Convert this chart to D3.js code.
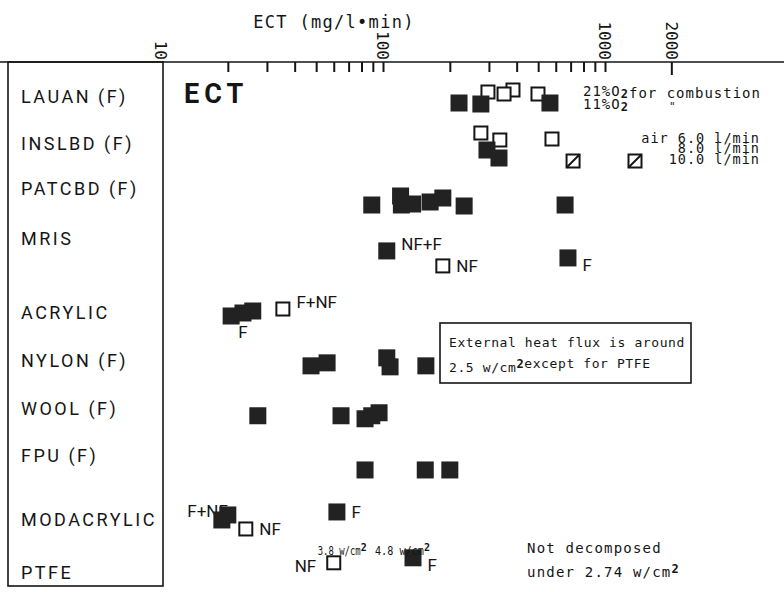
<!DOCTYPE html>
<html>
<head>
<meta charset="utf-8">
<script src="https://cdn.jsdelivr.net/npm/d3@7"></script>
<style>
  body { margin: 0; background: #fff; }
  svg { display: block; }
</style>
</head>
<body>
<div id="chart"></div>
<script>
// categories shown in the left-hand box, top to bottom
const categories = ["LAUAN (F)", "INSLBD (F)", "PATCBD (F)", "MRIS", "ACRYLIC",
  "NYLON (F)", "WOOL (F)", "FPU (F)", "MODACRYLIC", "PTFE"];

// ECT values (mg/l·min), one array per material
// type: filled / open / hatched, lane: small vertical stagger inside a row
const lauan = [
  {v: 297, type: "open", lane: -1.25}, {v: 385, type: "open", lane: -1.75},
  {v: 351, type: "open", lane: -0.75}, {v: 499, type: "open", lane: -0.75},
  {v: 220, type: "filled", lane: 1.5}, {v: 276, type: "filled", lane: 1.75},
  {v: 565, type: "filled", lane: 1.5}
];
const inslbd = [
  {v: 294, type: "filled", lane: 1.25}, {v: 333, type: "filled", lane: 3.25},
  {v: 276, type: "open", lane: -3}, {v: 336, type: "open", lane: -1.25},
  {v: 577, type: "open", lane: -1.5},
  {v: 718, type: "hatched", lane: 4}, {v: 1365, type: "hatched", lane: 4}
];
const patcbd = [
  {v: 89, type: "filled", lane: 0}, {v: 120, type: "filled", lane: -2.25},
  {v: 121, type: "filled", lane: 0}, {v: 136, type: "filled", lane: -0.25},
  {v: 163, type: "filled", lane: -0.75}, {v: 186, type: "filled", lane: -1.75},
  {v: 232, type: "filled", lane: 0.25}, {v: 661, type: "filled", lane: 0}
];
const mris = [
  {v: 104, type: "filled", lane: -1, note: "NF+F", at: "ne"},
  {v: 186, type: "open", lane: 2.75, note: "NF", at: "e"},
  {v: 681, type: "filled", lane: 0.75, note: "F", at: "se"}
];
const acrylic = [
  {v: 35.4, type: "open", lane: -1, note: "F+NF", at: "ne"},
  {v: 20.7, type: "filled", lane: 0.75},
  {v: 23.4, type: "filled", lane: 0, note: "F", at: "s"},
  {v: 25.9, type: "filled", lane: -0.5}
];
const nylon = [
  {v: 47.4, type: "filled", lane: 0.25}, {v: 56, type: "filled", lane: -0.5},
  {v: 104, type: "filled", lane: -1.75}, {v: 107.6, type: "filled", lane: 0.5},
  {v: 156, type: "filled", lane: 0.25}
];
const wool = [
  {v: 27.3, type: "filled", lane: 0.25}, {v: 64.7, type: "filled", lane: 0.25},
  {v: 83, type: "filled", lane: 1}, {v: 89, type: "filled", lane: 0.25},
  {v: 96, type: "filled", lane: -0.5}
];
const fpu = [
  {v: 83, type: "filled", lane: 0}, {v: 155, type: "filled", lane: 0},
  {v: 200, type: "filled", lane: 0}
];
const modacrylic = [
  {v: 24.1, type: "open", lane: 2.75, note: "NF", at: "e"},
  {v: 18.8, type: "filled", lane: 0.5},
  {v: 20, type: "filled", lane: -0.75, note: "F+NF", at: "nw"},
  {v: 62, type: "filled", lane: -1.5, note: "F", at: "e"}
];
const ptfe = [
  {v: 60, type: "open", lane: 1.25, note: "NF", at: "w", flux: "3.8"},
  {v: 136.5, type: "filled", lane: 0, note: "F", at: "se", flux: "4.8"}
];
const rows = [lauan, inslbd, patcbd, mris, acrylic, nylon, wool, fpu, modacrylic, ptfe];

// axis ticks
const minorTicks = [20, 30, 40, 50, 60, 70, 80, 90, 200, 300, 400, 500, 600, 700, 800, 900];
const majorTicks = [10, 100, 1000, 2000];

// ---- layout ----
const width = 784, height = 592;
const axisY = 62;
const boxLeft = 8, boxBottom = 586;
const labelSlots = [0, 0.96, 1.9, 2.94, 4.5, 5.5, 6.48, 7.46, 8.81, 9.9];
const markSlots = [0, 1, 2.25, 3.29, 4.5, 5.58, 6.62, 7.77, 8.77, 9.6];
const laneStep = 4;
const mono = "'DejaVu Sans Mono', monospace";
const sans = "Roboto, 'DejaVu Sans', sans-serif";
const ink = "#151515";

const svg = d3.select("#chart").append("svg")
    .attr("width", width)
    .attr("height", height);

const x = d3.scaleLog().domain([10, 1000]).range([161, 605]);
const slot = d3.scaleLinear().domain([0, 1]).range([97, 145]);

// top axis line and ticks
svg.append("line")
    .attr("x1", 0).attr("x2", width)
    .attr("y1", axisY).attr("y2", axisY)
    .attr("stroke", ink).attr("stroke-width", 1.4);

svg.append("g")
    .attr("transform", `translate(0,${axisY})`)
    .call(d3.axisBottom(x).tickValues(minorTicks.concat([100, 1000])).tickSize(10).tickFormat(""))
    .call(g => g.select(".domain").remove())
    .call(g => g.selectAll("line").attr("stroke", ink).attr("stroke-width", 2));

svg.append("line")
    .attr("x1", x(2000)).attr("x2", x(2000))
    .attr("y1", axisY).attr("y2", axisY + 13)
    .attr("stroke", ink).attr("stroke-width", 2);

svg.selectAll(".major-label")
    .data(majorTicks)
    .enter().append("text")
    .attr("class", "major-label")
    .attr("transform", d => `translate(${x(d)},${axisY - 2}) rotate(90)`)
    .attr("text-anchor", "end")
    .attr("dy", "0.36em")
    .attr("font-family", mono)
    .attr("font-size", 16)
    .attr("fill", ink)
    .text(d => d);

svg.append("text")
    .attr("x", 334).attr("y", 28)
    .attr("text-anchor", "middle")
    .attr("font-family", mono)
    .attr("font-size", 17)
    .attr("letter-spacing", 1.3)
    .attr("fill", ink)
    .text("ECT (mg/l\u2022min)");

// category box
svg.append("rect")
    .attr("x", boxLeft).attr("y", axisY)
    .attr("width", x(10) + 2 - boxLeft).attr("height", boxBottom - axisY)
    .attr("fill", "none").attr("stroke", ink).attr("stroke-width", 1.6);

svg.selectAll(".cat")
    .data(categories)
    .enter().append("text")
    .attr("class", "cat")
    .attr("x", 21)
    .attr("y", (d, i) => slot(labelSlots[i]))
    .attr("dy", "0.36em")
    .attr("font-family", sans)
    .attr("font-size", 18)
    .attr("letter-spacing", 2.5)
    .attr("fill", ink)
    .text(d => d);

svg.append("text")
    .attr("x", 184).attr("y", 103)
    .attr("font-family", sans)
    .attr("font-weight", 700)
    .attr("font-size", 27)
    .attr("letter-spacing", 5)
    .attr("fill", ink)
    .text("ECT");

// flatten points with their pixel positions
const size = {filled: 17, open: 15, hatched: 15};
const points = [];
rows.forEach((row, i) => {
  row.forEach(d => {
    points.push(Object.assign({}, d, {
      cx: x(d.v),
      cy: slot(markSlots[i]) + d.lane * laneStep
    }));
  });
});

// point notes (F / NF), drawn under the markers
const noteOffset = {
  e:  {dy: 6, anchor: "start"},
  ne: {dy: -1, anchor: "start"},
  se: {dy: 13, anchor: "start"},
  s:  {dy: 25, anchor: "middle"},
  nw: {dy: 2, anchor: "end"},
  w:  {dy: 9, anchor: "end"}
};
svg.append("g")
    .selectAll("text")
    .data(points.filter(d => d.note))
    .enter().append("text")
    .attr("x", d => {
      const o = noteOffset[d.at];
      const half = size[d.type] / 2 + 6;
      if (o.anchor === "start") return d.cx + half;
      if (d.at === "w") return d.cx - half - 4;
      return d.cx;
    })
    .attr("y", d => d.cy + noteOffset[d.at].dy)
    .attr("text-anchor", d => noteOffset[d.at].anchor)
    .attr("font-family", sans)
    .attr("font-size", 17)
    .attr("fill", ink)
    .text(d => d.note);

// markers: open first, filled on top
const order = {open: 0, hatched: 1, filled: 2};
const marks = svg.append("g")
    .selectAll("g")
    .data(points.slice().sort((a, b) => order[a.type] - order[b.type]))
    .enter().append("g")
    .attr("transform", d => `translate(${d.cx},${d.cy})`);

marks.append("rect")
    .attr("x", d => -size[d.type] / 2 + (d.type === "filled" ? 0 : 1))
    .attr("y", d => -size[d.type] / 2 + (d.type === "filled" ? 0 : 1))
    .attr("width", d => size[d.type] - (d.type === "filled" ? 0 : 2))
    .attr("height", d => size[d.type] - (d.type === "filled" ? 0 : 2))
    .attr("fill", d => d.type === "filled" ? "#222" : "#fff")
    .attr("stroke", ink)
    .attr("stroke-width", d => d.type === "filled" ? 0 : 2);

marks.filter(d => d.type === "hatched")
    .append("line")
    .attr("x1", -6.5).attr("y1", 6.5)
    .attr("x2", 6.5).attr("y2", -6.5)
    .attr("stroke", ink).attr("stroke-width", 2);

// heat flux labels above the PTFE points (condensed to fit side by side)
svg.append("g")
    .selectAll("text")
    .data(points.filter(d => d.flux))
    .enter().append("text")
    .attr("x", d => d.cx + (d.type === "open" ? -16 : -38))
    .attr("y", 555)
    .attr("font-family", mono)
    .attr("font-size", 12.5)
    .attr("fill", ink)
    .call(t => t.append("tspan")
        .attr("textLength", d => d.type === "open" ? 43 : 49)
        .attr("lengthAdjust", "spacingAndGlyphs")
        .text(d => d.flux + " w/cm"))
    .call(t => t.append("tspan").attr("font-weight", 700).attr("font-size", 10).attr("dy", -4).text("2"));

// free annotations
function note(xp, yp, parts, opts) {
  const t = svg.append("text")
      .attr("x", xp).attr("y", yp)
      .attr("font-family", mono)
      .attr("font-size", (opts && opts.size) || 14)
      .attr("letter-spacing", (opts && opts.ls) != null ? opts.ls : 1)
      .attr("text-anchor", (opts && opts.anchor) || "start")
      .attr("fill", ink);
  parts.forEach(p => {
    if (typeof p === "string") t.append("tspan").text(p);
    else t.append("tspan")
        .attr("font-weight", 700)
        .attr("font-size", 12)
        .attr("dy", p.dy)
        .text(p.t);
  });
  return t;
}

note(583, 96, ["21%O", {t: "2", dy: 2}, {t: "", dy: -2}, "for combustion"]);
note(583, 109, ["11%O", {t: "2", dy: 2}]);
note(669, 110, ["\""], {size: 11});

note(760, 143, ["air 6.0 l/min"], {anchor: "end", size: 13.5, ls: 1});
note(760, 153, ["8.0 l/min"], {anchor: "end", size: 13.5, ls: 1});
note(760, 164, ["10.0 l/min"], {anchor: "end", size: 13.5, ls: 1});

// heat flux box
svg.append("rect")
    .attr("x", 440).attr("y", 323)
    .attr("width", 251).attr("height", 60)
    .attr("fill", "#fff").attr("stroke", ink).attr("stroke-width", 1.6);
note(449, 347, ["External heat flux is around"], {size: 13, ls: 0.6});
note(449, 372, ["2.5 w/cm", {t: "2", dy: -4}, {t: "", dy: 4}, "except for PTFE"], {size: 13, ls: 0.6});

note(527, 553, ["Not decomposed"], {size: 14, ls: 1.2});
note(527, 577, ["under 2.74 w/cm", {t: "2", dy: -4}], {size: 14, ls: 1.2});
</script>
</body>
</html>
